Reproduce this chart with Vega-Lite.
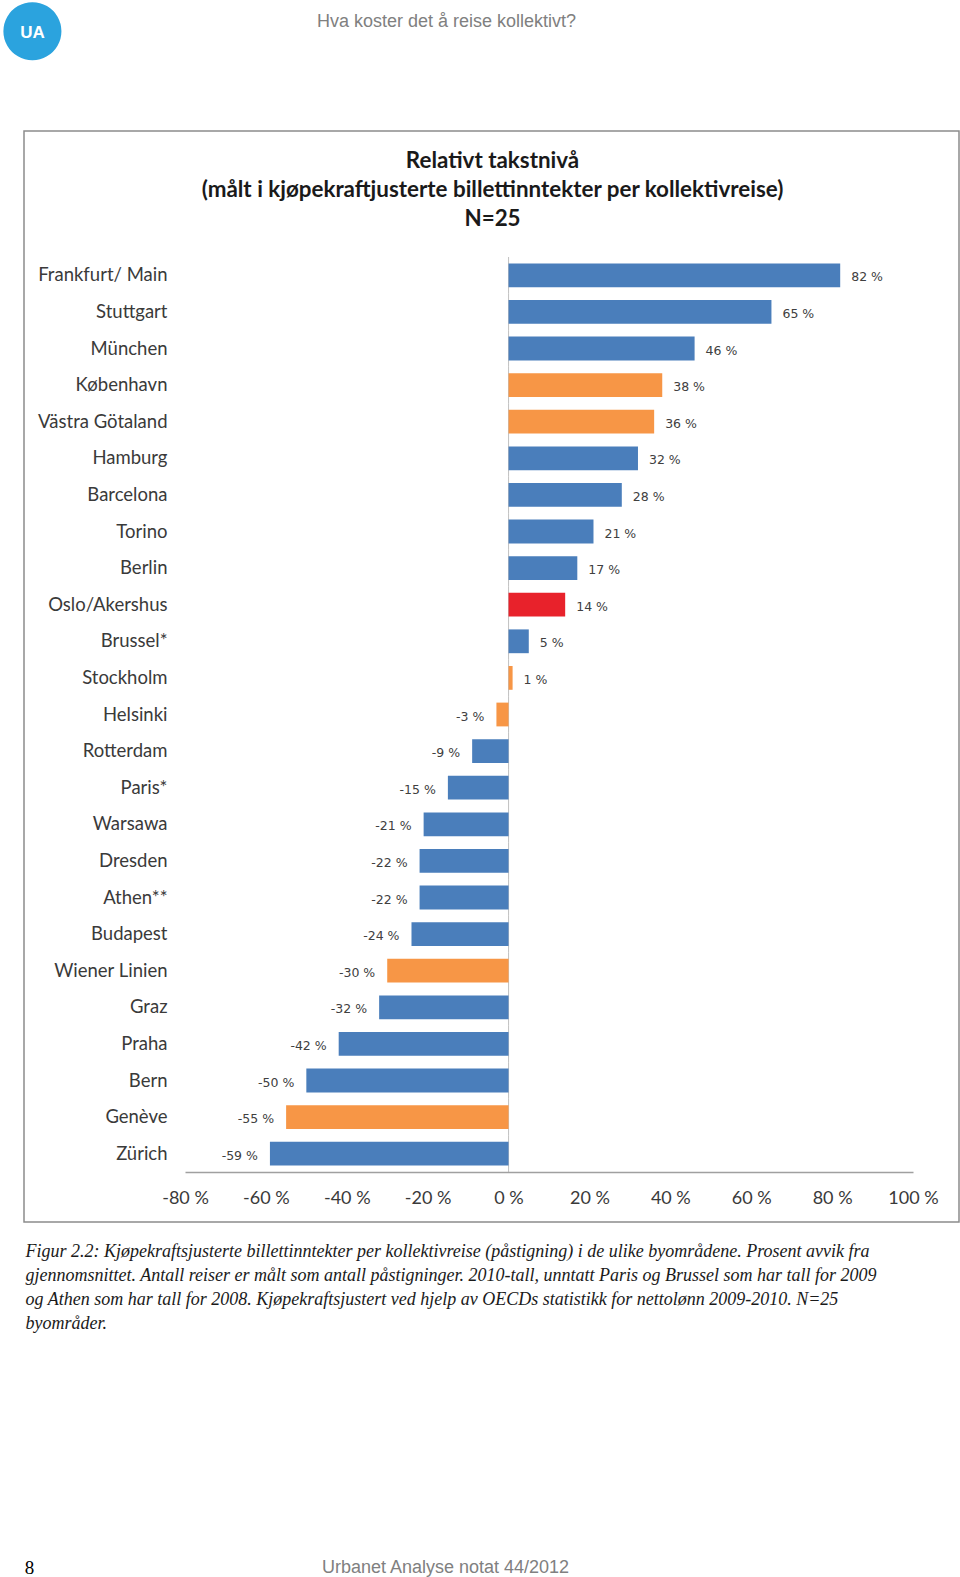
{
  "$schema": "https://vega.github.io/schema/vega-lite/v6.json",
  "width": 935,
  "height": 1091,
  "autosize": {"type": "none"},
  "padding": {"left": 24, "top": 131, "right": 1, "bottom": 355},
  "background": "white",
  "config": {
    "view": {"stroke": "#8c8c8c", "strokeWidth": 1.5},
    "axis": {"grid": false, "ticks": false, "titleLimit": 3000}
  },
  "data": {
    "values": [
      {"by": "Frankfurt/ Main", "verdi": 82, "tekst": "82 %", "gruppe": "blå"},
      {"by": "Stuttgart", "verdi": 65, "tekst": "65 %", "gruppe": "blå"},
      {"by": "München", "verdi": 46, "tekst": "46 %", "gruppe": "blå"},
      {"by": "København", "verdi": 38, "tekst": "38 %", "gruppe": "oransje"},
      {"by": "Västra Götaland", "verdi": 36, "tekst": "36 %", "gruppe": "oransje"},
      {"by": "Hamburg", "verdi": 32, "tekst": "32 %", "gruppe": "blå"},
      {"by": "Barcelona", "verdi": 28, "tekst": "28 %", "gruppe": "blå"},
      {"by": "Torino", "verdi": 21, "tekst": "21 %", "gruppe": "blå"},
      {"by": "Berlin", "verdi": 17, "tekst": "17 %", "gruppe": "blå"},
      {"by": "Oslo/Akershus", "verdi": 14, "tekst": "14 %", "gruppe": "Oslo"},
      {"by": "Brussel*", "verdi": 5, "tekst": "5 %", "gruppe": "blå"},
      {"by": "Stockholm", "verdi": 1, "tekst": "1 %", "gruppe": "oransje"},
      {"by": "Helsinki", "verdi": -3, "tekst": "-3 %", "gruppe": "oransje"},
      {"by": "Rotterdam", "verdi": -9, "tekst": "-9 %", "gruppe": "blå"},
      {"by": "Paris*", "verdi": -15, "tekst": "-15 %", "gruppe": "blå"},
      {"by": "Warsawa", "verdi": -21, "tekst": "-21 %", "gruppe": "blå"},
      {"by": "Dresden", "verdi": -22, "tekst": "-22 %", "gruppe": "blå"},
      {"by": "Athen**", "verdi": -22, "tekst": "-22 %", "gruppe": "blå"},
      {"by": "Budapest", "verdi": -24, "tekst": "-24 %", "gruppe": "blå"},
      {"by": "Wiener Linien", "verdi": -30, "tekst": "-30 %", "gruppe": "oransje"},
      {"by": "Graz", "verdi": -32, "tekst": "-32 %", "gruppe": "blå"},
      {"by": "Praha", "verdi": -42, "tekst": "-42 %", "gruppe": "blå"},
      {"by": "Bern", "verdi": -50, "tekst": "-50 %", "gruppe": "blå"},
      {"by": "Genève", "verdi": -55, "tekst": "-55 %", "gruppe": "oransje"},
      {"by": "Zürich", "verdi": -59, "tekst": "-59 %", "gruppe": "blå"}
    ]
  },
  "resolve": {"axis": {"x": "independent", "y": "independent"}},
  "layer": [
    {
      "mark": {"type": "tick", "orient": "vertical", "size": 36.6, "thickness": 1, "color": "#a6a6a6"},
      "encoding": {
        "x": {
          "datum": 0,
          "type": "quantitative",
          "scale": {"domain": [-80, 100], "range": [161, 889], "nice": false},
          "axis": {
            "orient": "top", "labels": false, "domain": false,
            "title": ["Relativt takstnivå", "(målt i kjøpekraftjusterte billettinntekter per kollektivreise)", "N=25"],
            "titleX": 468, "titleY": 36, "titleAlign": "center", "titleBaseline": "alphabetic", "titleAngle": 0,
            "titleFont": "Lato", "titleFontSize": 22.4, "titleFontWeight": "bold", "titleColor": "#1a1a1a", "titleLineHeight": 29
          }
        },
        "y": {
          "field": "by", "type": "nominal", "sort": null,
          "scale": {"range": [126, 1041], "paddingInner": 0.35, "paddingOuter": 0.175},
          "axis": null
        }
      }
    },
    {
      "mark": {"type": "bar"},
      "encoding": {
        "x": {
          "field": "verdi", "type": "quantitative",
          "scale": {"domain": [-80, 100], "range": [161, 889], "nice": false},
          "axis": {
            "orient": "bottom", "offset": -50,
            "values": [-80, -60, -40, -20, 0, 20, 40, 60, 80, 100],
            "labelExpr": "datum.value + ' %'",
            "labelFont": "Lato", "labelFontSize": 18, "labelColor": "#3a3a3a", "labelPadding": 17,
            "labelFlush": false, "labelOverlap": false,
            "domain": true, "domainColor": "#a0a0a0", "domainWidth": 1.5,
            "title": [
              "Figur 2.2: Kjøpekraftsjusterte billettinntekter per kollektivreise (påstigning) i de ulike byområdene. Prosent avvik fra",
              "gjennomsnittet. Antall reiser er målt som antall påstigninger. 2010-tall, unntatt Paris og Brussel som har tall for 2009",
              "og Athen som har tall for 2008. Kjøpekraftsjustert ved hjelp av OECDs statistikk for nettolønn 2009-2010. N=25",
              "byområder."
            ],
            "titleX": 1, "titleY": 84, "titleAlign": "left", "titleBaseline": "alphabetic", "titleAngle": 0,
            "titleFont": "Liberation Serif", "titleFontStyle": "italic", "titleFontWeight": "normal",
            "titleFontSize": 18, "titleColor": "#1a1a1a", "titleLineHeight": 24
          }
        },
        "y": {
          "field": "by", "type": "nominal", "sort": null,
          "scale": {"range": [126, 1041], "paddingInner": 0.35, "paddingOuter": 0.175},
          "axis": {
            "orient": "left", "offset": -161, "labelPadding": 18,
            "labelFont": "Lato", "labelFontSize": 18.5, "labelColor": "#3a3a3a", "domain": false,
            "title": "Hva koster det å reise kollektivt?",
            "titleX": 261, "titleY": -110, "titleAngle": 0, "titleAlign": "center", "titleBaseline": "middle",
            "titleFont": "Liberation Sans", "titleFontSize": 18, "titleFontWeight": "normal", "titleColor": "#808080"
          }
        },
        "color": {
          "field": "gruppe", "type": "nominal",
          "scale": {"domain": ["blå", "oransje", "Oslo"], "range": ["#4A7EBB", "#F79646", "#E8222B"]},
          "legend": null
        }
      }
    },
    {
      "transform": [{"filter": "datum.verdi >= 0"}],
      "mark": {"type": "text", "align": "left", "baseline": "middle", "dx": 11, "dy": 2, "font": "DejaVu Sans", "fontSize": 12.5, "color": "#404040"},
      "encoding": {
        "x": {
          "field": "verdi", "type": "quantitative",
          "scale": {"domain": [-80, 100], "range": [161, 889], "nice": false},
          "axis": {
            "orient": "top", "labels": false, "domain": false,
            "title": "Urbanet Analyse notat 44/2012",
            "titleX": 421, "titleY": 1436, "titleAlign": "center", "titleBaseline": "middle", "titleAngle": 0,
            "titleFont": "Liberation Sans", "titleFontSize": 18, "titleFontWeight": "normal", "titleColor": "#808080"
          }
        },
        "y": {
          "field": "by", "type": "nominal", "sort": null,
          "scale": {"range": [126, 1041], "paddingInner": 0.35, "paddingOuter": 0.175},
          "axis": {
            "orient": "right", "labels": false, "domain": false,
            "title": "8",
            "titleX": -930, "titleY": 1436, "titleAlign": "center", "titleBaseline": "middle", "titleAngle": 0,
            "titleFont": "Liberation Serif", "titleFontSize": 19, "titleFontWeight": "normal", "titleColor": "#000000"
          }
        },
        "text": {"field": "tekst", "type": "nominal"}
      }
    },
    {
      "transform": [{"filter": "datum.verdi < 0"}],
      "mark": {"type": "text", "align": "right", "baseline": "middle", "dx": -12, "dy": 2, "font": "DejaVu Sans", "fontSize": 12.5, "color": "#404040"},
      "encoding": {
        "x": {
          "field": "verdi", "type": "quantitative",
          "scale": {"domain": [-80, 100], "range": [161, 889], "nice": false},
          "axis": {
            "orient": "top", "labels": false, "domain": false, "zindex": 1,
            "title": "●",
            "titleX": 8, "titleY": -104, "titleAlign": "center", "titleBaseline": "middle", "titleAngle": 0,
            "titleFont": "DejaVu Sans", "titleFontSize": 76, "titleFontWeight": "normal", "titleColor": "#2BA3DE"
          }
        },
        "y": {
          "field": "by", "type": "nominal", "sort": null,
          "scale": {"range": [126, 1041], "paddingInner": 0.35, "paddingOuter": 0.175},
          "axis": {
            "orient": "left", "labels": false, "domain": false, "zindex": 2,
            "title": "UA",
            "titleX": 8, "titleY": -99, "titleAlign": "center", "titleBaseline": "middle", "titleAngle": 0,
            "titleFont": "Liberation Sans", "titleFontSize": 17, "titleFontWeight": "bold", "titleColor": "#ffffff"
          }
        },
        "text": {"field": "tekst", "type": "nominal"}
      }
    }
  ]
}
